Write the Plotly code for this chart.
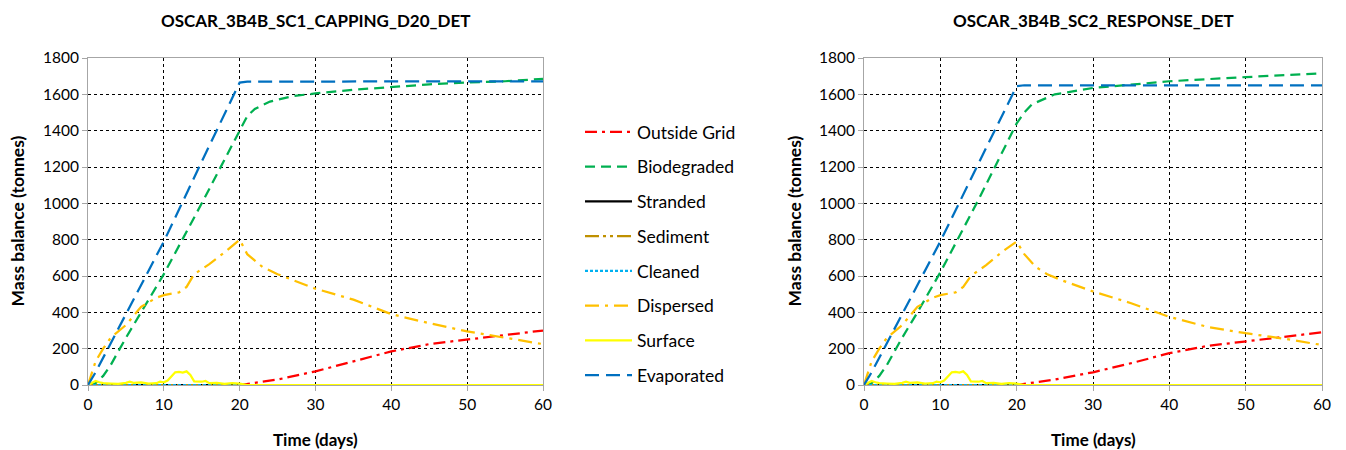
import plotly.graph_objects as go

# ---------------- data ----------------
series_names = ["Outside Grid", "Biodegraded", "Stranded", "Sediment",
                "Cleaned", "Dispersed", "Surface", "Evaporated"]

# SC1 (left panel)
sc1_evap_t = [0, 1, 5, 10, 15, 20, 21, 30, 40, 50, 60]
sc1_evap_v = [0, 70, 390, 790, 1230, 1665, 1670, 1671, 1672, 1672, 1672]
sc1_bio_t = [0, 1, 2, 3, 5, 7, 10, 15, 20, 21, 22, 24, 27, 30, 35, 40, 45, 50, 55, 60]
sc1_bio_v = [0, 10, 50, 110, 260, 400, 610, 1000, 1400, 1480, 1520, 1560, 1590, 1605,
             1625, 1640, 1655, 1665, 1672, 1685]
sc1_disp_t = [0, 1, 2, 3, 5, 7, 9, 10, 12, 13, 14, 16, 18, 20, 21, 23, 25, 30, 35,
              40, 45, 50, 55, 60]
sc1_disp_v = [0, 130, 200, 260, 330, 430, 480, 495, 510, 540, 610, 665, 730, 800,
              720, 650, 610, 530, 470, 390, 340, 295, 260, 225]
sc1_out_t = [0, 20, 25, 30, 35, 40, 45, 50, 55, 60]
sc1_out_v = [0, 0, 30, 75, 130, 185, 225, 250, 275, 300]
sc1_surf_t = [0, 0.5, 1, 1.5, 2, 3, 4, 5, 5.5, 6, 7, 8, 9, 9.5, 10, 10.5, 11, 11.5, 12,
              12.5, 13, 13.5, 14, 15, 15.5, 16, 17, 18, 19, 20, 21, 30, 40, 50, 60]
sc1_surf_v = [0, 10, 22, 15, 10, 8, 6, 12, 18, 12, 15, 8, 10, 18, 15, 25, 45, 70, 72,
              68, 75, 55, 20, 18, 22, 10, 12, 6, 10, 8, 0, 0, 0, 0, 0]

# SC2 (right panel)
sc2_evap_t = [0, 1, 5, 10, 15, 20, 21, 30, 40, 50, 60]
sc2_evap_v = [0, 70, 390, 790, 1220, 1645, 1650, 1650, 1650, 1650, 1650]
sc2_bio_t = [0, 1, 2, 3, 5, 7, 10, 15, 20, 21, 22, 25, 30, 35, 40, 50, 60]
sc2_bio_v = [0, 10, 50, 110, 260, 400, 620, 1020, 1440, 1500, 1545, 1600, 1635,
             1655, 1672, 1695, 1715]
sc2_disp_t = [0, 1, 2, 3, 5, 7, 9, 10, 12, 13, 14, 16, 18, 20, 21, 22.5, 24, 26, 30, 35,
              40, 45, 50, 55, 60]
sc2_disp_v = [0, 130, 200, 260, 330, 430, 480, 495, 510, 540, 600, 660, 730, 790,
              720, 650, 610, 575, 515, 450, 375, 320, 285, 255, 220]
sc2_out_t = [0, 20, 25, 30, 35, 40, 45, 50, 55, 60]
sc2_out_v = [0, 0, 30, 70, 120, 175, 215, 240, 265, 290]
sc2_surf_t = [0, 0.5, 1, 1.5, 2, 3, 4, 5, 5.5, 6, 7, 8, 9, 9.5, 10, 10.5, 11, 11.5, 12,
              12.5, 13, 13.5, 14, 15, 15.5, 16, 17, 18, 19, 20, 21, 30, 40, 50, 60]
sc2_surf_v = [0, 10, 22, 15, 10, 8, 6, 12, 18, 12, 15, 8, 10, 18, 15, 25, 45, 70, 72,
              68, 75, 55, 20, 18, 22, 10, 12, 6, 10, 8, 0, 0, 0, 0, 0]

zero_t = [0, 60]
zero_v = [0, 0]

titles = ["OSCAR_3B4B_SC1_CAPPING_D20_DET", "OSCAR_3B4B_SC2_RESPONSE_DET"]
x_title = "Time (days)"
y_title = "Mass balance (tonnes)"

# ---------------- styles ----------------
styles = {
    "Outside Grid": dict(color="#FF0000", dash="12px,5px,3px,5px"),
    "Biodegraded": dict(color="#00B050", dash="10px,6px"),
    "Stranded": dict(color="#000000", dash="solid"),
    "Sediment": dict(color="#BF9000", dash="14px,4px,3px,4px,3px,4px"),
    "Cleaned": dict(color="#00B0F0", dash="3px,2px"),
    "Dispersed": dict(color="#FFC000", dash="14px,6px,3px,6px"),
    "Surface": dict(color="#FFFF00", dash="solid"),
    "Evaporated": dict(color="#0070C0", dash="14px,7px"),
}

panels = [
    {
        "Outside Grid": (sc1_out_t, sc1_out_v),
        "Biodegraded": (sc1_bio_t, sc1_bio_v),
        "Stranded": (zero_t, zero_v),
        "Sediment": (zero_t, zero_v),
        "Cleaned": (zero_t, zero_v),
        "Dispersed": (sc1_disp_t, sc1_disp_v),
        "Surface": (sc1_surf_t, sc1_surf_v),
        "Evaporated": (sc1_evap_t, sc1_evap_v),
    },
    {
        "Outside Grid": (sc2_out_t, sc2_out_v),
        "Biodegraded": (sc2_bio_t, sc2_bio_v),
        "Stranded": (zero_t, zero_v),
        "Sediment": (zero_t, zero_v),
        "Cleaned": (zero_t, zero_v),
        "Dispersed": (sc2_disp_t, sc2_disp_v),
        "Surface": (sc2_surf_t, sc2_surf_v),
        "Evaporated": (sc2_evap_t, sc2_evap_v),
    },
]

FONT = "Lato, 'Open Sans', sans-serif"
W, H = 1346, 450
OFF = 8  # page body margin offset

def px_x(x):
    return (x - OFF) / W

def px_y(y):
    return (H - (y - OFF)) / H

fig = go.Figure()
for i, panel in enumerate(panels):
    xa = "x" if i == 0 else "x2"
    ya = "y" if i == 0 else "y2"
    for name in series_names:
        t, v = panel[name]
        st = styles[name]
        fig.add_trace(go.Scatter(
            x=t, y=v, mode="lines", name=name, xaxis=xa, yaxis=ya,
            legendgroup=name, showlegend=(i == 0),
            line=dict(color=st["color"], dash=st["dash"], width=2.25),
        ))

left_dom = [px_x(88), px_x(543)]
right_dom = [px_x(864), px_x(1322)]
ydom = [px_y(385), px_y(58)]

axis_common = dict(
    showgrid=True, gridcolor="#000000", griddash="dot", gridwidth=1,
    showline=True, linecolor="#A6A6A6", linewidth=1, mirror=True,
    ticks="outside", ticklen=5, tickcolor="#A6A6A6",
    tickfont=dict(family=FONT, size=15.5, color="#000000"),
    zeroline=False, automargin=False,
)

fig.update_layout(
    width=W, height=H,
    margin=dict(l=0, r=0, t=0, b=0, autoexpand=False),
    paper_bgcolor="white", plot_bgcolor="white",
    font=dict(family=FONT, color="#000000"),
    xaxis=dict(domain=left_dom, range=[0, 60], dtick=10, anchor="y", **axis_common),
    yaxis=dict(domain=ydom, range=[0, 1800], dtick=200, anchor="x", **axis_common),
    xaxis2=dict(domain=right_dom, range=[0, 60], dtick=10, anchor="y2", **axis_common),
    yaxis2=dict(domain=ydom, range=[0, 1800], dtick=200, anchor="x2", **axis_common),
    legend=dict(
        x=572 / W, y=(H - 106) / H, xanchor="left", yanchor="top",
        font=dict(family=FONT, size=17.5, color="#000000"),
        traceorder="grouped", tracegroupgap=9,
        bgcolor="rgba(0,0,0,0)", itemwidth=47,
    ),
    showlegend=True,
)

centers = [(left_dom[0] + left_dom[1]) / 2, (right_dom[0] + right_dom[1]) / 2]
ylab_x = [px_x(17), px_x(794)]
for i in range(2):
    fig.add_annotation(text=f"<b>{titles[i]}</b>", x=centers[i], y=px_y(21),
                       xref="paper", yref="paper", showarrow=False,
                       xanchor="center", yanchor="middle",
                       font=dict(family=FONT, size=17, color="#000000"))
    fig.add_annotation(text=f"<b>{x_title}</b>", x=centers[i], y=px_y(439),
                       xref="paper", yref="paper", showarrow=False,
                       xanchor="center", yanchor="middle",
                       font=dict(family=FONT, size=17, color="#000000"))
    fig.add_annotation(text=f"<b>{y_title}</b>", x=ylab_x[i], y=(ydom[0] + ydom[1]) / 2,
                       xref="paper", yref="paper", showarrow=False, textangle=-90,
                       xanchor="center", yanchor="middle",
                       font=dict(family=FONT, size=17.5, color="#000000"))

fig.write_html("out.html")
